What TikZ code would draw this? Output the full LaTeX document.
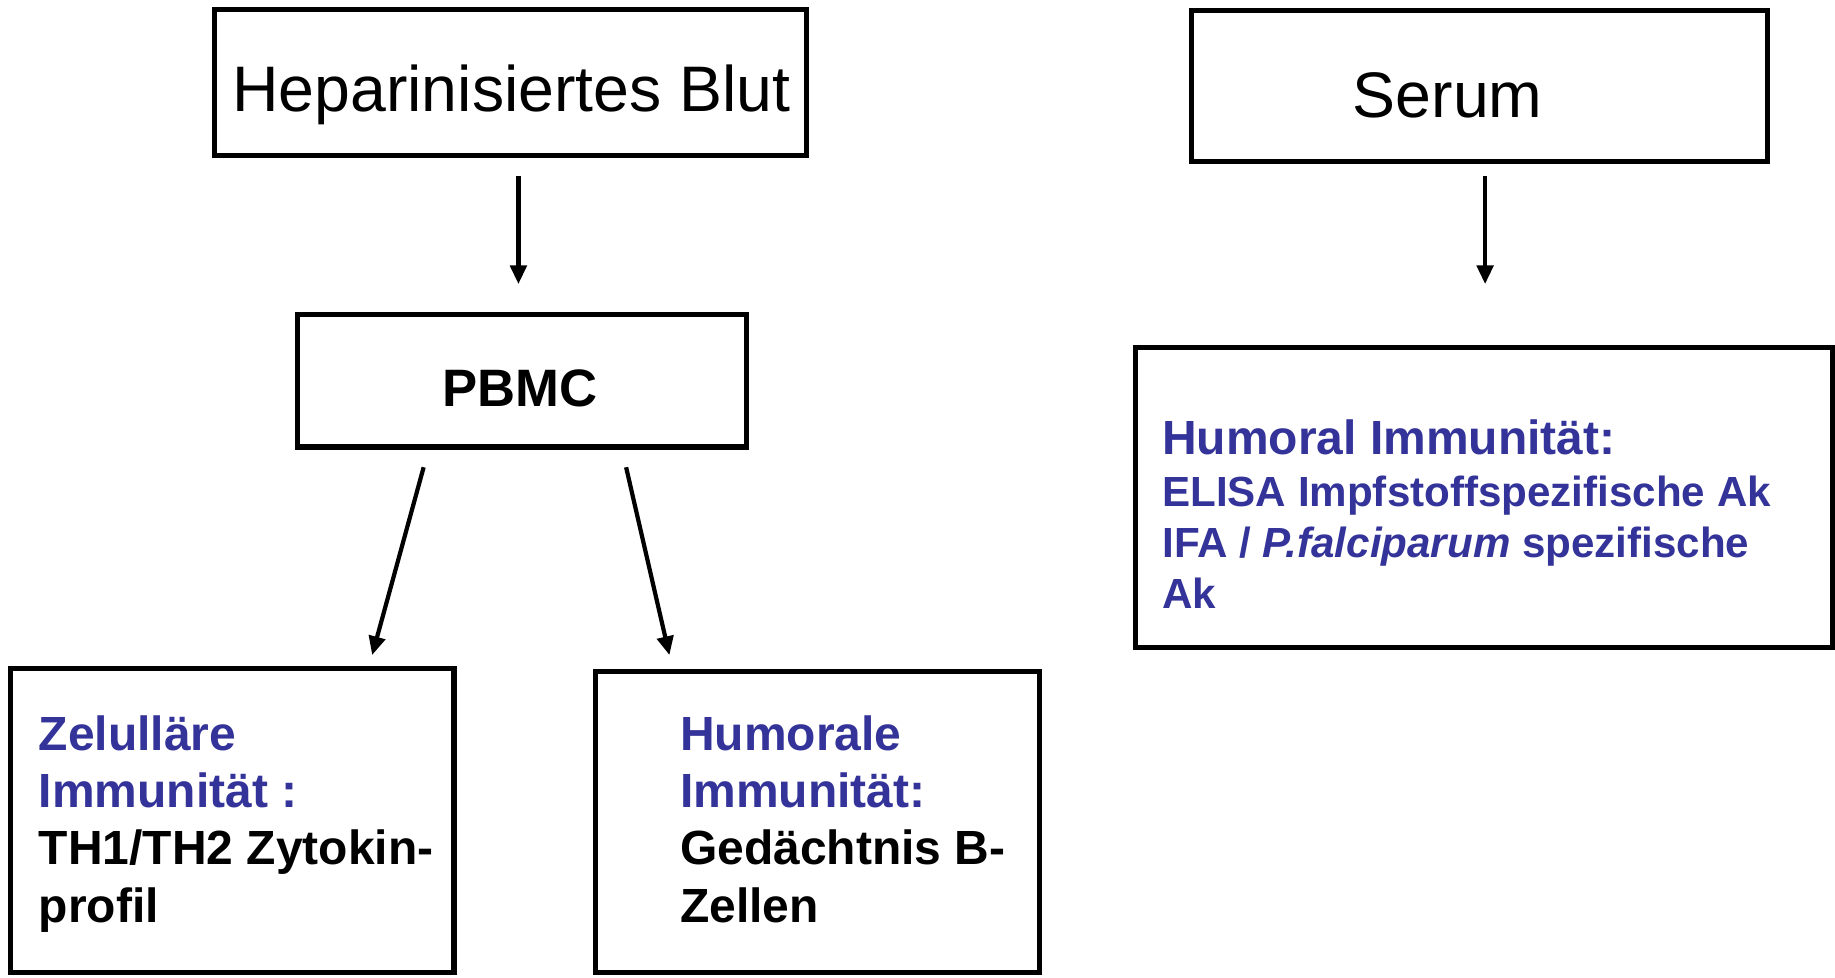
\documentclass[tikz,border=0pt]{standalone}
\usepackage{fontspec}
\setmainfont{Liberation Sans}
\usetikzlibrary{arrows.meta}
\definecolor{hblue}{RGB}{51,51,153}
\tikzset{
  boxnode/.style={draw=black, line width=4.5pt, inner sep=0pt, fill=none},
  arr/.style={line width=3.6pt, -{Triangle[length=16pt,width=14pt]}},
  big/.style={font=\fontsize{55}{66}\selectfont, inner sep=0pt},
  bodytext/.style={font=\bfseries\fontsize{41}{49}\selectfont, inner sep=0pt, align=left, anchor=base west},
}
\begin{document}
\begin{tikzpicture}[x=1pt,y=-1pt]
\useasboundingbox (0,0) rectangle (1568,835);
% boxes
\node[boxnode, minimum width=506pt, minimum height=125pt] (blut) at (436,70.5) {};
\node[boxnode, minimum width=492pt, minimum height=129pt] (serum) at (1264,73.5) {};
\node[boxnode, minimum width=384pt, minimum height=113pt] (pbmc) at (446,325.5) {};
\node[boxnode, minimum width=596pt, minimum height=256pt] (humbox) at (1268,425) {};
\node[boxnode, minimum width=379pt, minimum height=260pt] (zell) at (198.5,701) {};
\node[boxnode, minimum width=379pt, minimum height=257pt] (bzell) at (698.5,702.5) {};
% texts
\node[big, anchor=base] (blutt) at (437,95) {Heparinisiertes Blut};
\node[big, anchor=base] (serumt) at (1237,100) {Serum};
\node[font=\bfseries\fontsize{45}{54}\selectfont, inner sep=0pt, anchor=base] (pbmct) at (444.5,347) {PBMC};
\node[bodytext] (zellt) at (33,788) {\textcolor{hblue}{Zelulläre}\\\textcolor{hblue}{Immunität :}\\TH1/TH2 Zytokin-\\profil};
\node[bodytext] (bzellt) at (581,788) {\textcolor{hblue}{Humorale}\\\textcolor{hblue}{Immunität:}\\Gedächtnis B-\\Zellen};
\node[font=\bfseries\fontsize{41}{49}\selectfont, inner sep=0pt, anchor=base west, text=hblue] (humt) at (993,388) {Humoral Immunität:};
\node[font=\bfseries\fontsize{36}{43.5}\selectfont, inner sep=0pt, align=left, anchor=base west, text=hblue] (humb) at (993,520) {ELISA Impfstoffspezifische Ak\\IFA / \textit{P.falciparum} spezifische\\Ak};
% arrows
\draw[arr] ([shift={(7,15)}]blut.south) -- ([shift={(-3,-24)}]pbmc.north);
\draw[arr] ([shift={(5,10)}]serum.south) -- ([shift={(1,-52)}]humbox.north);
\draw[arr] ([shift={(-84,15)}]pbmc.south) -- ([shift={(119.5,-9)}]zell.north);
\draw[arr] ([shift={(89,15)}]pbmc.south) -- ([shift={(-126.5,-12)}]bzell.north);
\end{tikzpicture}
\end{document}
